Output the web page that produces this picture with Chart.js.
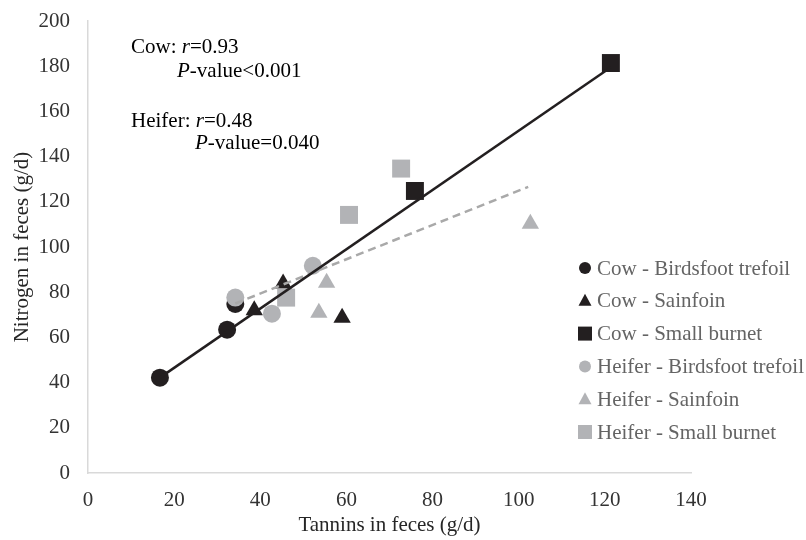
<!DOCTYPE html>
<html>
<head>
<meta charset="utf-8">
<script src="https://cdn.jsdelivr.net/npm/chart.js@4"></script>
<style>
  html, body { margin: 0; padding: 0; background: #fff; }
  #wrap { width: 806px; height: 540px; }
</style>
</head>
<body>
<div id="wrap"><canvas id="chart" width="806" height="540"></canvas></div>
<script>
// values
const cowTrefoilX = [16.7, 32.3, 34.2];
const cowTrefoilY = [42.2, 63.4, 74.8];
const cowSainfoinX = [38.6, 45.3, 59.0];
const cowSainfoinY = [72.0, 83.8, 68.7];
const cowBurnetX = [75.9, 121.4];
const cowBurnetY = [124.8, 181.4];
const heiferTrefoilX = [34.2, 42.7, 52.2];
const heiferTrefoilY = [77.6, 70.5, 91.7];
const heiferSainfoinX = [53.6, 55.4, 102.7];
const heiferSainfoinY = [70.9, 84.2, 110.3];
const heiferBurnetX = [46.0, 60.6, 72.7];
const heiferBurnetY = [77.6, 114.2, 134.7];
const cowFitX = [16.7, 121.4];
const cowFitY = [42.2, 179.5];
const heiferFitX = [34.2, 102.2];
const heiferFitY = [75.0, 126.6];

const legendLabels = [
  "Cow - Birdsfoot trefoil",
  "Cow - Sainfoin",
  "Cow - Small burnet",
  "Heifer - Birdsfoot trefoil",
  "Heifer - Sainfoin",
  "Heifer - Small burnet",
];

const BLACK = "#231f20";
const GREY = "#b2b3b6";
const SERIF = "'Liberation Serif', 'Times New Roman', serif";
const FS = 21;

function pts(xs, ys) {
  return xs.map((x, i) => ({ x: x, y: ys[i] }));
}

function markerDataset(label, xs, ys, color, style, radius, order) {
  return {
    label: label,
    data: pts(xs, ys),
    backgroundColor: color,
    borderColor: color,
    borderWidth: 0,
    pointStyle: style,
    pointRadius: radius,
    pointHoverRadius: radius,
    showLine: false,
    order: order,
  };
}

const markerStyles = ["circle", "triangle", "rect", "circle", "triangle", "rect"];

const datasets = [
  markerDataset(legendLabels[0], cowTrefoilX, cowTrefoilY, BLACK, "circle", 9, 3),
  markerDataset(legendLabels[1], cowSainfoinX, cowSainfoinY, BLACK, "triangle", 10, 3),
  markerDataset(legendLabels[2], cowBurnetX, cowBurnetY, BLACK, "rect", 12.7, 3),
  markerDataset(legendLabels[3], heiferTrefoilX, heiferTrefoilY, GREY, "circle", 9, 2),
  markerDataset(legendLabels[4], heiferSainfoinX, heiferSainfoinY, GREY, "triangle", 10, 2),
  markerDataset(legendLabels[5], heiferBurnetX, heiferBurnetY, GREY, "rect", 12.7, 2),
  {
    label: "Heifer fit",
    data: pts(heiferFitX, heiferFitY),
    showLine: true,
    borderColor: "#a9a9a9",
    borderWidth: 2.5,
    borderDash: [8, 5],
    pointRadius: 0,
    order: 1,
  },
  {
    label: "Cow fit",
    data: pts(cowFitX, cowFitY),
    showLine: true,
    borderColor: BLACK,
    borderWidth: 2.5,
    pointRadius: 0,
    order: 0,
  },
];

// legend drawn on the right, overlapping the plot like the original
const sideLegend = {
  id: "sideLegend",
  afterDraw(chart) {
    const ctx = chart.ctx;
    ctx.save();
    ctx.font = FS + "px " + SERIF;
    ctx.textBaseline = "middle";
    ctx.textAlign = "left";
    legendLabels.forEach((label, i) => {
      const y = 268 + i * 32.8;
      const color = i < 3 ? BLACK : GREY;
      ctx.fillStyle = color;
      const style = markerStyles[i];
      if (style === "circle") {
        ctx.beginPath();
        ctx.arc(585, y, 6, 0, Math.PI * 2);
        ctx.fill();
      } else if (style === "triangle") {
        ctx.beginPath();
        ctx.moveTo(585, y - 7);
        ctx.lineTo(591.5, y + 5);
        ctx.lineTo(578.5, y + 5);
        ctx.closePath();
        ctx.fill();
      } else {
        ctx.fillRect(578, y - 7, 14, 14);
      }
      ctx.fillStyle = "#646464";
      ctx.fillText(label, 597, y + 1);
    });
    ctx.restore();
  },
};

// correlation notes in the upper left
const notes = {
  id: "notes",
  afterDraw(chart) {
    const ctx = chart.ctx;
    ctx.save();
    ctx.fillStyle = "#000";
    ctx.textBaseline = "middle";
    const parts = (x, y, list) => {
      list.forEach(([txt, italic]) => {
        ctx.font = (italic ? "italic " : "") + FS + "px " + SERIF;
        ctx.fillText(txt, x, y);
        x += ctx.measureText(txt).width;
      });
    };
    parts(131, 47, [["Cow: ", false], ["r", true], ["=0.93", false]]);
    parts(177, 71, [["P", true], ["-value<0.001", false]]);
    parts(131, 121, [["Heifer: ", false], ["r", true], ["=0.48", false]]);
    parts(195, 143, [["P", true], ["-value=0.040", false]]);
    ctx.restore();
  },
};

new Chart(document.getElementById("chart").getContext("2d"), {
  type: "scatter",
  data: { datasets: datasets },
  options: {
    responsive: false,
    animation: false,
    events: [],
    layout: { autoPadding: false, padding: { top: 21, right: 115, left: 0, bottom: 0 } },
    plugins: {
      legend: { display: false },
      tooltip: { enabled: false },
    },
    scales: {
      x: {
        type: "linear",
        min: 0,
        max: 140,
        ticks: {
          stepSize: 20,
          padding: 15,
          color: "#333333",
          font: { family: SERIF, size: FS },
        },
        grid: { display: true, drawOnChartArea: false, drawTicks: false },
        border: { color: "#d9d9d9", width: 1.5 },
        title: {
          display: true,
          text: "Tannins in feces (g/d)",
          color: "#262626",
          font: { family: SERIF, size: FS },
          padding: { top: 0, bottom: 2 },
        },
        afterFit(scale) { scale.height = 67; },
      },
      y: {
        type: "linear",
        min: 0,
        max: 200,
        ticks: {
          stepSize: 20,
          padding: 18,
          color: "#333333",
          font: { family: SERIF, size: FS },
        },
        grid: { display: true, drawOnChartArea: false, drawTicks: false },
        border: { color: "#d9d9d9", width: 1.5 },
        title: {
          display: true,
          text: "Nitrogen in feces (g/d)",
          color: "#262626",
          font: { family: SERIF, size: FS },
          padding: { top: 10, bottom: 0 },
        },
        afterFit(scale) {
          scale.width = 88;
          scale.paddingTop = 0;
          scale.paddingBottom = 0;
        },
      },
    },
  },
  plugins: [sideLegend, notes],
});
</script>
</body>
</html>
